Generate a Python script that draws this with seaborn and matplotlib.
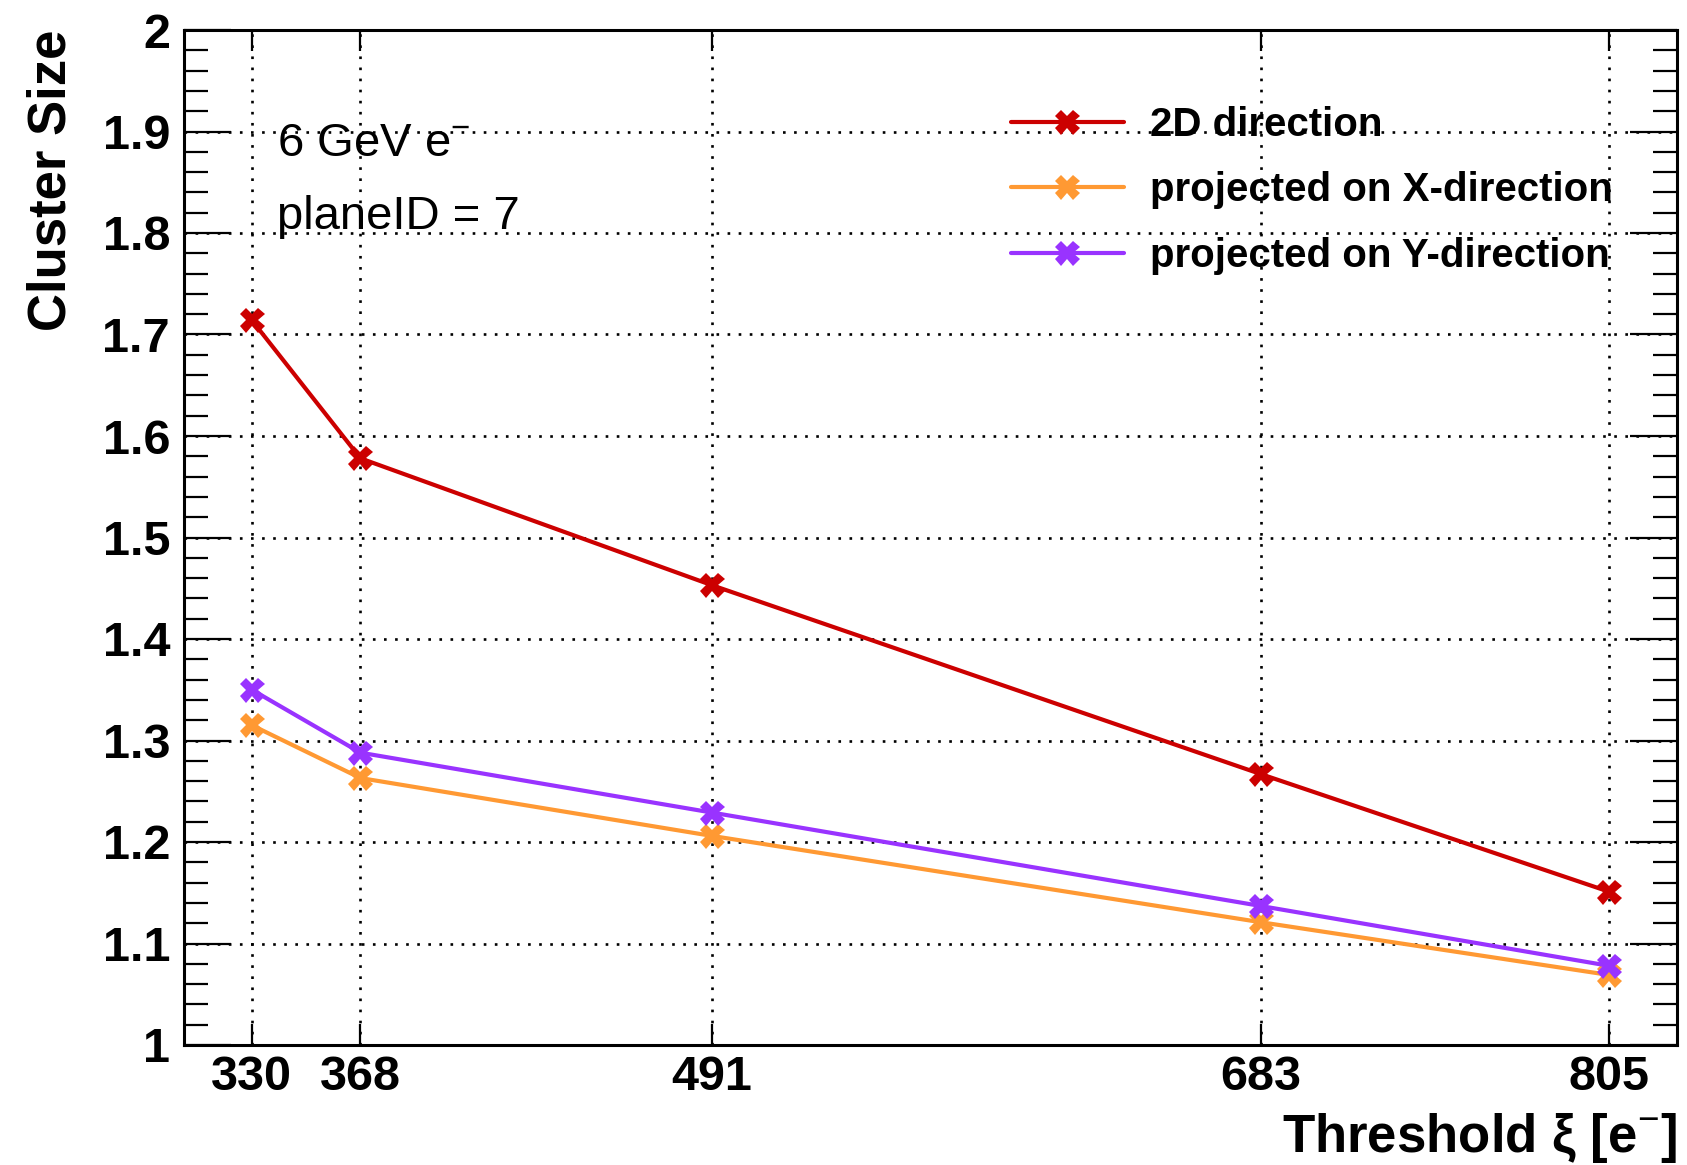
import matplotlib
matplotlib.use("Agg")
import matplotlib.pyplot as plt
from matplotlib.ticker import MultipleLocator, FixedLocator, FuncFormatter
import pandas as pd
import seaborn as sns

# values
thresholds = [330, 368, 491, 683, 805]
size_2d = [1.714, 1.578, 1.453, 1.267, 1.151]
size_x = [1.315, 1.263, 1.206, 1.121, 1.069]
size_y = [1.350, 1.288, 1.229, 1.137, 1.078]
series_names = ["2D direction", "projected on X-direction", "projected on Y-direction"]
series_colors = ["#cc0000", "#ff9933", "#9933ff"]

rows = []
for name, vals in zip(series_names, [size_2d, size_x, size_y]):
    for t, v in zip(thresholds, vals):
        rows.append({"threshold": t, "size": v, "series": name})
df = pd.DataFrame(rows)

sns.set_style("ticks")
plt.rcParams["font.family"] = ["Liberation Sans", "DejaVu Sans"]
plt.rcParams["mathtext.fontset"] = "custom"
plt.rcParams["mathtext.rm"] = "Liberation Sans"
plt.rcParams["mathtext.bf"] = "Liberation Sans:bold"
plt.rcParams["text.color"] = "black"
plt.rcParams["axes.labelcolor"] = "black"
plt.rcParams["xtick.color"] = "black"
plt.rcParams["ytick.color"] = "black"

fig = plt.figure(figsize=(16.87, 11.65), dpi=100)
ax = fig.add_axes([184 / 1687, 1 - 1045 / 1165, 1493 / 1687, 1015 / 1165])

sns.lineplot(data=df, x="threshold", y="size", hue="series", style="series",
             palette=dict(zip(series_names, series_colors)),
             markers={n: "X" for n in series_names}, dashes=False,
             linewidth=3.0, markersize=18, markeredgewidth=0, ax=ax)

ax.set_xlim(306.25, 828.75)
ax.set_ylim(1, 2)
ax.xaxis.set_major_locator(FixedLocator(thresholds))
ax.yaxis.set_major_locator(MultipleLocator(0.1))
ax.yaxis.set_minor_locator(MultipleLocator(0.02))
ax.yaxis.set_major_formatter(FuncFormatter(lambda v, p: f"{v:g}"))

ax.grid(True, which="major", color="black", linestyle=(0, (1, 3.2)), linewidth=1.9)
ax.tick_params(axis="both", which="both", direction="in", top=True, right=True,
               width=1.6, colors="black")
ax.tick_params(axis="y", which="major", length=34, labelsize=35, pad=10)
ax.tick_params(axis="y", which="minor", length=17)
ax.tick_params(axis="x", which="major", length=15, labelsize=35, pad=7)
ax.tick_params(axis="x", which="minor", bottom=False, top=False)
for lab in ax.get_xticklabels() + ax.get_yticklabels():
    lab.set_fontweight("bold")
for sp in ax.spines.values():
    sp.set_linewidth(2.2)
    sp.set_color("black")

ax.set_ylabel("Cluster Size", fontsize=38, fontweight="bold", loc="top")
ax.yaxis.set_label_coords(-0.072, 1.0)
ax.set_xlabel("Threshold ξ [e$^{-}$]", fontsize=38, fontweight="bold", loc="right")
ax.xaxis.set_label_coords(1.0, -0.105)
ax.xaxis.label.set_va("baseline")

ax.text(277 / 1687, 1 - 156 / 1165, "6 GeV e$^{-}$", transform=fig.transFigure,
        fontsize=34, va="baseline", ha="left")
ax.text(277 / 1687, 1 - 229 / 1165, "planeID = 7", transform=fig.transFigure,
        fontsize=34, va="baseline", ha="left")

handles, labels = ax.get_legend_handles_labels()
leg = ax.legend(handles, labels, loc="upper left",
                bbox_to_anchor=(1011 / 1687, 1 - 106 / 1165),
                bbox_transform=fig.transFigure, frameon=False,
                prop={"size": 29, "weight": "bold"}, handlelength=2.8,
                handletextpad=0.65, labelspacing=0.68, borderpad=0, borderaxespad=0)

fig.savefig("out.png", dpi=100)
